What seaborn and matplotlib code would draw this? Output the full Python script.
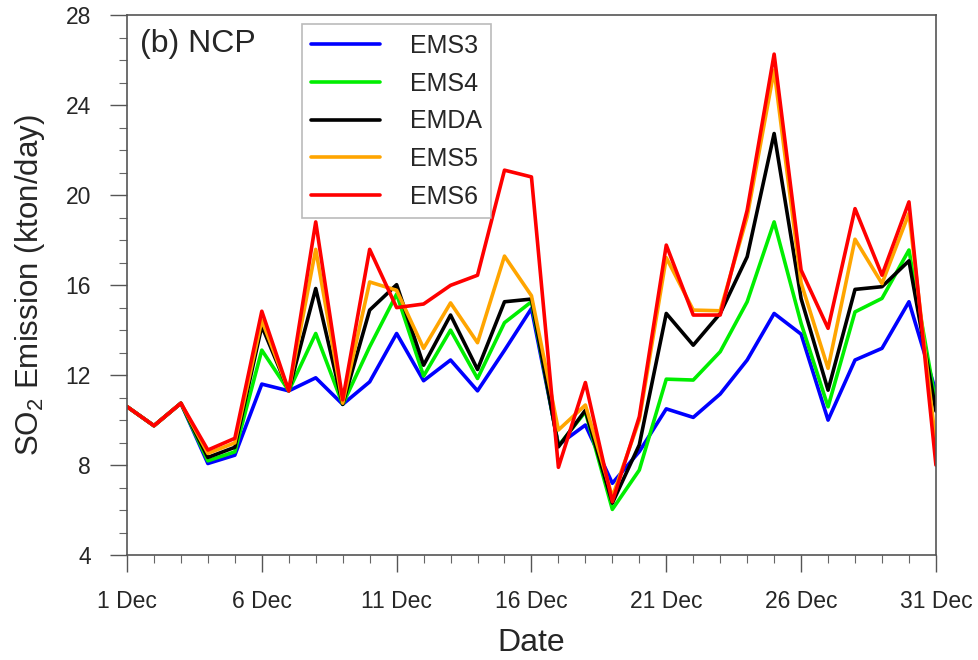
import numpy as np
import pandas as pd
import matplotlib
matplotlib.use("Agg")
import matplotlib.pyplot as plt
import seaborn as sns
from matplotlib.ticker import MultipleLocator

days = list(range(1, 32))
tick_days = [1, 6, 11, 16, 21, 26, 31]
tick_labels = ["1 Dec", "6 Dec", "11 Dec", "16 Dec", "21 Dec", "26 Dec", "31 Dec"]

ems3 = [10.6, 9.75, 10.75, 8.07, 8.44, 11.6, 11.3, 11.88, 10.7, 11.7, 13.85, 11.75, 12.67, 11.3, 13.1, 14.96,
        8.9, 9.78, 7.19, 8.6, 10.5, 10.12, 11.16, 12.67, 14.74, 13.82, 10.0, 12.67, 13.19, 15.26, 11.26]
ems4 = [10.6, 9.75, 10.75, 8.19, 8.59, 13.11, 11.3, 13.85, 10.7, 13.26, 15.6, 11.96, 14.0, 11.85, 14.33, 15.26,
        8.85, 10.37, 6.03, 7.78, 11.82, 11.78, 13.04, 15.26, 18.81, 14.3, 10.59, 14.81, 15.41, 17.56, 10.74]
emda = [10.6, 9.75, 10.75, 8.34, 8.79, 14.18, 11.3, 15.85, 10.7, 14.89, 16.02, 12.44, 14.67, 12.25, 15.26, 15.38,
        8.81, 10.44, 6.31, 8.9, 14.74, 13.33, 14.74, 17.26, 22.74, 15.4, 11.33, 15.81, 15.93, 17.08, 10.4]
ems5 = [10.6, 9.75, 10.75, 8.52, 8.99, 14.44, 11.3, 17.59, 10.75, 16.14, 15.77, 13.19, 15.21, 13.44, 17.29, 15.53,
        9.56, 10.67, 6.59, 10.0, 17.22, 14.89, 14.86, 19.04, 25.56, 16.1, 12.3, 18.04, 16.07, 19.19, 8.92]
ems6 = [10.6, 9.75, 10.75, 8.67, 9.19, 14.84, 11.3, 18.81, 10.9, 17.59, 15.0, 15.16, 15.99, 16.44, 21.11, 20.81,
        7.9, 11.67, 6.37, 10.15, 17.78, 14.67, 14.67, 19.33, 26.27, 16.67, 14.08, 19.4, 16.44, 19.7, 8.0]

series_names = ["EMS3", "EMS4", "EMDA", "EMS5", "EMS6"]
series_vals = [ems3, ems4, emda, ems5, ems6]
colors = ["#0000ff", "#00ee00", "#000000", "#ffa500", "#ff0000"]

df = pd.concat([pd.DataFrame({"day": days, "value": v, "series": n})
                for n, v in zip(series_names, series_vals)], ignore_index=True)

sns.set_style("ticks")
plt.rcParams["font.family"] = ["Liberation Sans", "DejaVu Sans"]
plt.rcParams["mathtext.fontset"] = "custom"
plt.rcParams["mathtext.rm"] = "Liberation Sans"

fig = plt.figure(figsize=(9.79, 6.6), dpi=100)
ax = fig.add_axes([0.1297, 0.159, 0.8263, 0.818])

sns.lineplot(data=df, x="day", y="value", hue="series", hue_order=series_names,
             palette=dict(zip(series_names, colors)), linewidth=2.6, ax=ax, legend=True)

ax.set_xlim(1, 31)
ax.set_ylim(4, 28)
ax.set_xticks(tick_days)
ax.set_xticklabels(tick_labels)
ax.set_yticks([4, 8, 12, 16, 20, 24, 28])
ax.xaxis.set_minor_locator(MultipleLocator(1))
ax.yaxis.set_minor_locator(MultipleLocator(1))
ax.tick_params(axis="both", which="major", direction="out", length=12, width=1.0,
               color="#555555", labelsize=16.5)
ax.tick_params(axis="x", which="major", pad=13)
ax.tick_params(axis="y", which="major", pad=14)
ax.tick_params(axis="both", which="minor", direction="out", length=6, width=0.8, color="#666666")
ax.tick_params(top=False, right=False, which="both")
for s in ax.spines.values():
    s.set_visible(True)
    s.set_color("#555555")
    s.set_linewidth(1.2)

ax.set_xlabel("Date", fontsize=23, labelpad=11)
ax.set_ylabel(r"SO$_2$ Emission (kton/day)", fontsize=22.5, labelpad=13)

ax.text(0.016, 0.975, "(b) NCP", transform=ax.transAxes, fontsize=23, va="top", ha="left")

leg = ax.legend(loc="upper left", bbox_to_anchor=(0.216, 0.983), fontsize=18,
                frameon=True, fancybox=False, handlelength=2.75, handletextpad=1.2,
                labelspacing=0.55, borderpad=0.38, borderaxespad=0)
leg.get_frame().set_edgecolor("#aaaaaa")
leg.get_frame().set_linewidth(1.2)
for line in leg.get_lines():
    line.set_linewidth(2.6)

fig.savefig("out.png", dpi=100)
